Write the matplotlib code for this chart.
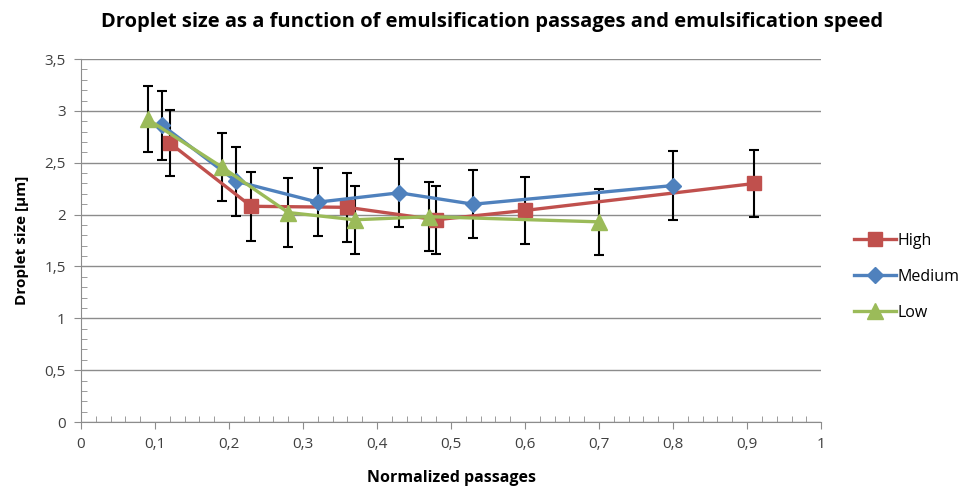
import numpy as np
import matplotlib
matplotlib.use("Agg")
import matplotlib.pyplot as plt
from matplotlib.ticker import MultipleLocator, FuncFormatter

plt.rcParams['font.family'] = ['Open Sans', 'DejaVu Sans']

# data
high_x = [0.12, 0.23, 0.36, 0.48, 0.60, 0.91]
high_y = [2.69, 2.08, 2.07, 1.95, 2.04, 2.30]
high_err = [0.32, 0.33, 0.33, 0.33, 0.32, 0.32]

med_x = [0.11, 0.21, 0.32, 0.43, 0.53, 0.80]
med_y = [2.86, 2.32, 2.12, 2.21, 2.10, 2.28]
med_err = [0.33, 0.33, 0.33, 0.33, 0.33, 0.33]

low_x = [0.09, 0.19, 0.28, 0.37, 0.47, 0.70]
low_y = [2.92, 2.46, 2.02, 1.95, 1.98, 1.93]
low_err = [0.32, 0.33, 0.33, 0.33, 0.33, 0.32]

series = [
    ("High", high_x, high_y, high_err, "#C0504D", "s", 10),
    ("Medium", med_x, med_y, med_err, "#4F81BD", "D", 8),
    ("Low", low_x, low_y, low_err, "#9BBB59", "^", 11),
]

fig = plt.figure(figsize=(9.7, 4.91), dpi=100)
ax = fig.add_axes([0.0835, 0.1405, 0.763, 0.7393])

for name, x, y, e, col, mk, ms in series:
    ax.errorbar(x, y, yerr=e, fmt='none', ecolor='black', elinewidth=1.5,
                capsize=3.5, capthick=1.5, zorder=2)
for name, x, y, e, col, mk, ms in series:
    ax.plot(x, y, color=col, marker=mk, markersize=ms, linewidth=2.4,
            label=name, zorder=3)

ax.set_xlim(0, 1)
ax.set_ylim(0, 3.5)
ax.xaxis.set_major_locator(MultipleLocator(0.1))
ax.xaxis.set_minor_locator(MultipleLocator(0.02))
ax.yaxis.set_major_locator(MultipleLocator(0.5))
ax.yaxis.set_minor_locator(MultipleLocator(0.1))

fmt = FuncFormatter(lambda v, p: ('%g' % round(v, 2)).replace('.', ','))
ax.xaxis.set_major_formatter(fmt)
ax.yaxis.set_major_formatter(fmt)

ax.grid(axis='y', which='major', color='#8C8C8C', linewidth=1)
ax.set_axisbelow(True)
for s in ['top', 'right']:
    ax.spines[s].set_visible(False)
for s in ['left', 'bottom']:
    ax.spines[s].set_color('#8C8C8C')
ax.tick_params(which='major', direction='out', length=5, color='#8C8C8C',
               labelsize=11, labelcolor='#404040', pad=6)
ax.tick_params(which='minor', direction='in', length=4, color='#8C8C8C')

ax.set_xlabel('Normalized passages', fontsize=11.5, fontweight='bold', labelpad=13)
ax.set_ylabel('Droplet size [µm]', fontsize=11, fontweight='bold', labelpad=11)
fig.suptitle('Droplet size as a function of emulsification passages and emulsification speed',
             x=0.507, y=0.975, fontsize=14.5, fontweight='bold')

ax.legend(loc='center left', bbox_to_anchor=(1.025, 0.40), frameon=False,
          fontsize=11.5, labelspacing=1.25, handlelength=2.6, handletextpad=0.1)

fig.savefig('out.png', dpi=100)
